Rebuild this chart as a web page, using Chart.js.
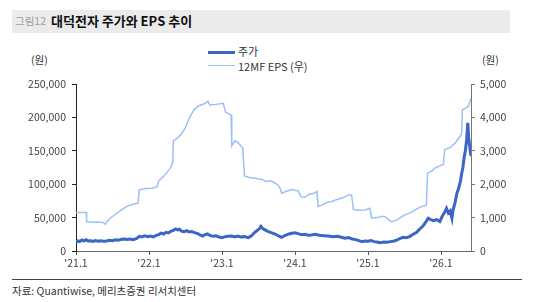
<!DOCTYPE html>
<html><head><meta charset="utf-8">
<script src="https://cdn.jsdelivr.net/npm/chart.js@4"></script>
<style>
html,body{margin:0;padding:0;background:#fff;}
body{width:533px;height:302px;position:relative;overflow:hidden;font-family:"Noto Sans CJK KR","Noto Sans",sans-serif;}
#c{position:absolute;left:0;top:0;}
.abs{position:absolute;white-space:nowrap;}
#bar{left:12px;top:10px;width:498px;height:23px;background:#ebebeb;}
</style></head><body>
<div id="bar" class="abs"></div>
<div class="abs" style="left:15px;top:12px;font-size:10.5px;line-height:18px;color:#a0a0a0;">그림12</div>
<div class="abs" style="left:51px;top:12px;font-size:13px;line-height:18px;font-weight:bold;color:#111;">대덕전자 주가와 EPS 추이</div>
<div class="abs" style="left:208px;top:51px;width:27px;height:3px;background:#3b66c6;"></div>
<div class="abs" style="left:238px;top:43px;font-size:11px;line-height:16px;color:#333;">주가</div>
<div class="abs" style="left:208px;top:64.5px;width:27px;height:1.5px;background:#9cc0f4;"></div>
<div class="abs" style="left:238px;top:58px;font-size:11px;line-height:16px;color:#333;">12MF EPS (우)</div>
<div class="abs" style="left:31px;top:52px;font-size:10.5px;line-height:16px;color:#333;">(원)</div>
<div class="abs" style="left:482px;top:52px;font-size:10.5px;line-height:16px;color:#333;">(원)</div>
<div class="abs" style="left:12px;top:279px;width:510px;height:1px;background:#444;"></div>
<div class="abs" style="left:12px;top:283px;font-size:10.5px;line-height:16px;color:#333;">자료: Quantiwise, 메리츠증권 리서치센터</div>
<canvas id="c" width="533" height="302"></canvas>
<script>
// x values: months since 2021-01
const tickMonths = [0, 12, 24, 36, 48, 60];
const tickLabels = ["'21.1", "'22.1", "'23.1", "'24.1", "'25.1", "'26.1"];
const leftTicks = [0, 50000, 100000, 150000, 200000, 250000];
const rightTicks = [0, 1000, 2000, 3000, 4000, 5000];

const priceMonths = [0,0.3,0.6,1.0,1.3,1.7,2.0,2.4,2.8,3.2,3.6,4.0,4.5,5.0,5.5,6.0,6.5,7.0,7.5,7.9,8.4,8.9,9.4,10.0,10.4,10.8,11.3,11.8,12.2,12.7,13.2,13.6,14.0,14.4,14.8,15.2,15.6,16.0,16.4,16.7,17.0,17.4,17.8,18.2,18.6,19.0,19.5,20.0,20.4,20.8,21.2,21.6,22.0,22.5,23.0,23.5,24.0,24.5,25.0,25.6,26.1,26.6,27.1,27.7,28.3,28.8,29.4,29.8,30.2,30.4,30.7,31.0,31.6,32.2,32.8,33.3,33.8,34.4,35.0,35.5,36.0,36.5,37.1,37.7,38.2,38.7,39.3,40.0,40.7,41.5,42.2,43.0,43.6,44.2,44.8,45.4,46.0,46.5,47.0,47.5,48.0,48.5,49.0,49.5,50.0,50.6,51.1,51.7,52.3,52.8,53.3,53.8,54.3,54.9,55.5,56.0,56.5,57.0,57.4,57.9,58.3,58.8,59.3,59.8,60.2,60.6,60.9,61.2,61.5,61.8,62.0,62.3,62.6,62.9,63.2,63.4,63.6,63.8,64.0,64.2,64.4,64.55,64.7,64.8,64.93];
const priceValues = [13500,15000,14200,16500,15200,16800,15000,15400,14300,15600,14800,15300,14600,15000,16200,15500,16800,16200,17500,18000,17200,17800,17000,19000,22000,21000,22800,21500,22500,21200,23500,24500,26800,25500,28000,27000,29500,31000,33000,31500,32500,29500,29000,30500,28500,29000,27500,26000,24000,22500,24500,25500,23500,22000,22800,21000,20000,21500,22000,22500,21000,22500,21000,21500,20000,22500,28000,31000,34000,37000,33500,32000,29000,27000,25000,22500,20500,23500,25500,26500,27400,26000,24500,25000,23500,24000,25000,23500,23000,22500,21500,22000,20500,19000,20000,18000,17000,15500,14000,15000,14500,15500,14000,13500,12500,13500,13000,14000,15000,16500,19000,20500,20000,22000,25500,28000,33000,37000,42000,49000,47000,45500,47000,44000,52000,58000,64000,57000,60000,49000,62000,72000,86000,94000,105000,116000,125000,140000,150000,165000,192000,170000,158000,150000,142000];

const epsMonths = [0,1.7,1.75,2.5,3.5,4.5,4.8,5.0,5.6,6.5,7.5,8.3,9.3,10.2,10.4,11.5,12.5,13.3,13.6,14.5,15.5,15.9,16.0,16.8,17.4,18.0,18.7,19.5,20.2,21.0,21.7,22.0,23.0,24.2,24.6,25.0,25.5,25.6,26.1,26.6,27.4,27.7,28.5,29.5,30.0,30.5,31.2,32.0,33.0,33.5,33.8,34.5,35.5,36.5,37.0,37.6,38.3,39.0,39.6,39.8,40.5,41.3,42.0,43.0,44.0,44.8,45.3,45.6,46.5,47.5,48.3,48.6,49.5,50.3,50.8,51.5,51.9,52.8,53.5,54.1,55.0,56.0,56.8,57.6,57.8,58.5,59.0,59.8,60.4,60.6,61.5,62.3,63.1,63.4,63.5,64.0,64.5,64.93];
const epsValues = [1150,1150,880,860,870,850,800,860,980,1100,1230,1330,1400,1430,1830,1870,1880,1920,2100,2250,2480,2650,3300,3400,3520,3700,4020,4250,4350,4400,4480,4370,4390,4420,4150,4120,4070,3150,3300,3250,3080,2250,2200,2180,2150,2150,2080,2100,2000,1900,1730,1780,1840,1800,1620,1600,1700,1720,1780,1340,1380,1460,1480,1550,1600,1680,1680,1240,1220,1230,1280,990,1000,1040,1030,920,880,930,1020,1080,1150,1260,1330,1380,2330,2400,2480,2550,2600,3030,3100,3230,3420,3520,4230,4270,4330,4570];

const xMax = 64.93;
const tickFont = {family: '"Noto Sans CJK KR","Noto Sans",sans-serif', size: 10.5};
const fmt = v => v.toLocaleString('en-US');

new Chart(document.getElementById('c'), {
  type: 'line',
  data: {
    datasets: [
      {label: '주가', data: priceMonths.map((m,i)=>({x:m,y:priceValues[i]})), yAxisID: 'y',
       borderColor: '#3b66c6', borderWidth: 3, pointRadius: 0, tension: 0, order: 1},
      {label: '12MF EPS (우)', data: epsMonths.map((m,i)=>({x:m,y:epsValues[i]})), yAxisID: 'y1',
       borderColor: '#9cc0f4', borderWidth: 1.5, pointRadius: 0, tension: 0, order: 2}
    ]
  },
  options: {
    responsive: false, animation: false,
    layout: {padding: {top: 84, left: 0, right: 0, bottom: 0}},
    plugins: {legend: {display: false}, tooltip: {enabled: false}},
    scales: {
      x: {type: 'linear', min: 0, max: xMax,
          afterBuildTicks: s => { s.ticks = tickMonths.map(v => ({value: v})); },
          afterFit: s => { s.height = 51; },
          ticks: {callback: v => tickLabels[tickMonths.indexOf(v)], color: '#444', font: tickFont, padding: 2, maxRotation: 0, autoSkip: false},
          grid: {drawOnChartArea: false, drawTicks: true, tickLength: 4, color: '#555'},
          border: {color: '#666'}},
      y: {position: 'left', min: 0, max: 250000,
          afterBuildTicks: s => { s.ticks = leftTicks.map(v => ({value: v})); },
          afterFit: s => { s.width = 76; },
          ticks: {callback: v => fmt(v), color: '#444', font: tickFont, padding: 6},
          grid: {drawOnChartArea: false, drawTicks: true, tickLength: 4, color: '#222'},
          border: {color: '#222'}},
      y1: {position: 'right', min: 0, max: 5000,
          afterBuildTicks: s => { s.ticks = rightTicks.map(v => ({value: v})); },
          afterFit: s => { s.width = 62; },
          ticks: {callback: v => fmt(v), color: '#444', font: tickFont, padding: 5},
          grid: {drawOnChartArea: false, drawTicks: true, tickLength: 4, color: '#777'},
          border: {color: '#777'}}
    }
  }
});
</script>
</body></html>
